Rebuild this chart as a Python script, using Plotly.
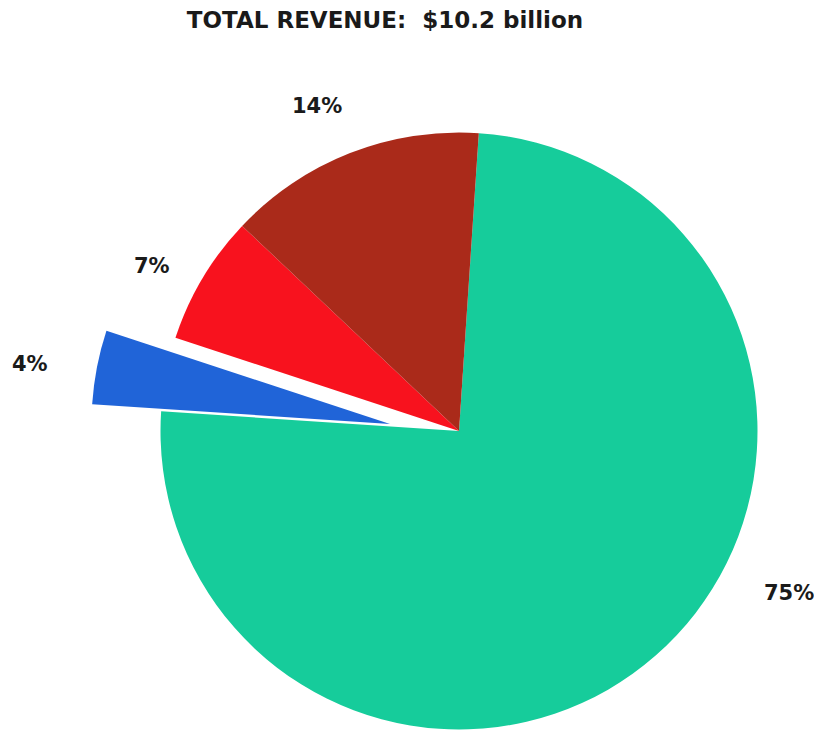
import plotly.graph_objects as go

# Data
segments = ["Segment A", "Segment B", "Segment C", "Segment D"]
shares = [75, 4, 7, 14]
colors = ["#16CC9B", "#2064D8", "#F8121E", "#AA2A1A"]
pulled = [False, True, False, False]
title_text = "TOTAL REVENUE:\u00a0\u00a0$10.2 billion"

W, H = 822, 730
OFF = 8  # page body margin compensation
rot = 3.8
r = 298.5

def dom(cx, cy):
    cx -= OFF
    cy -= OFF
    return dict(x=[(cx - r) / W, (cx + r) / W],
                y=[max(0, 1 - (cy + r) / H), min(1, 1 - (cy - r) / H)])

transparent = "rgba(0,0,0,0)"
base_colors = [transparent if p else c for c, p in zip(colors, pulled)]
pull_colors = [c if p else transparent for c, p in zip(colors, pulled)]

fig = go.Figure()
fig.add_trace(go.Pie(
    labels=segments, values=shares, sort=False, direction="clockwise",
    rotation=rot, textinfo="none", hoverinfo="label+percent",
    marker=dict(colors=base_colors, line=dict(width=0)),
    domain=dom(459, 431), showlegend=False,
))
fig.add_trace(go.Pie(
    labels=segments, values=shares, sort=False, direction="clockwise",
    rotation=rot, textinfo="none", hoverinfo="label+percent",
    marker=dict(colors=pull_colors, line=dict(width=0)),
    domain=dom(390, 424), showlegend=False,
))

label_pos = [(789, 593), (30, 364), (152, 266), (317, 106)]
for v, (lx, ly) in zip(shares, label_pos):
    fig.add_annotation(x=(lx - OFF) / W, y=1 - (ly - OFF) / H, xref="paper", yref="paper",
                       text=f"{v}%", showarrow=False, xanchor="center", yanchor="middle",
                       font=dict(family="DejaVu Sans", size=21, color="#1a1a1a", weight="bold"))

fig.update_layout(
    width=W, height=H,
    margin=dict(l=0, r=0, t=0, b=0),
    paper_bgcolor="white", plot_bgcolor="white",
    title=dict(text=title_text, x=(385 - OFF) / W, y=1 - (20 - OFF) / H,
               xref="paper", yref="container", xanchor="center", yanchor="middle",
               font=dict(family="DejaVu Sans", size=23, color="#1a1a1a", weight="bold")),
)

fig.write_html("out.html")
